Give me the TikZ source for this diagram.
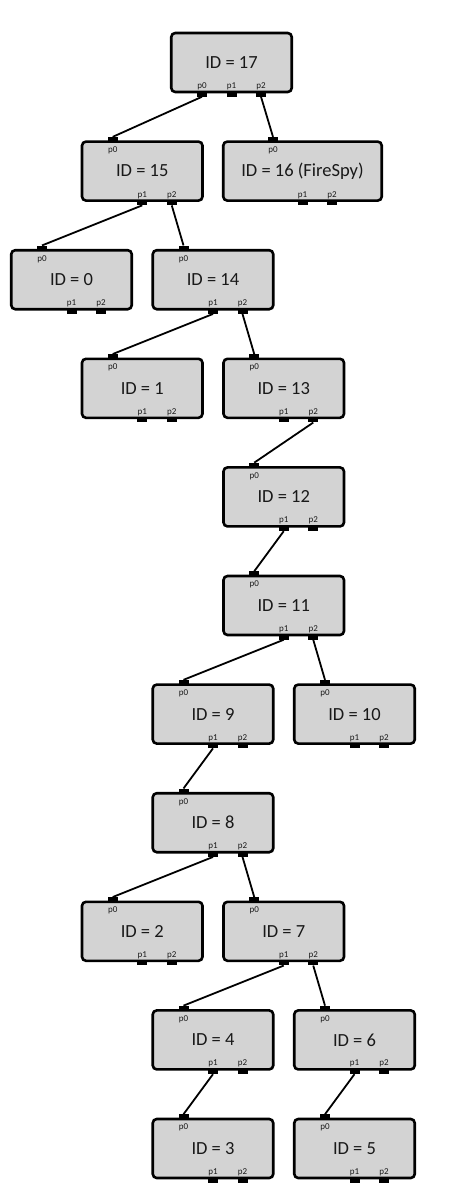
\documentclass[tikz,border=0pt]{standalone}
\usepackage{fontspec}
\setmainfont{Carlito}
\definecolor{boxgray}{RGB}{211,211,211}
\definecolor{idtext}{RGB}{25,25,25}
\tikzset{
  idbox/.style={draw=black, fill=boxgray, line width=2.6pt, rounded corners=4pt,
    minimum height=59pt, inner sep=0pt, text=idtext, font=\fontsize{18.5}{20}\selectfont},
  port/.style={fill=black, draw=none, minimum width=10pt, minimum height=4.5pt, inner sep=0pt},
  plabel/.style={inner sep=0pt, text=idtext, font=\fontsize{9}{10}\selectfont},
  conn/.style={draw=black, line width=1.8pt}
}
% box with p0 on top and p1, p2 at bottom
\newcommand\treebox[5]{%
  \node[idbox, minimum width=#5] (#1) at (#2,#3) {#4};
  \node[port] (#1p0) at ([xshift=-29.5pt,yshift=1pt]#1.north) {};
  \node[port] (#1p1) at ([yshift=-1pt]#1.south) {};
  \node[port] (#1p2) at ([xshift=29.5pt,yshift=-1pt]#1.south) {};
  \node[plabel] (#1l0) at ([xshift=-29.5pt,yshift=-10pt]#1.north) {p0};
  \node[plabel] (#1l1) at ([yshift=7pt]#1.south) {p1};
  \node[plabel] (#1l2) at ([xshift=29.5pt,yshift=7pt]#1.south) {p2};
}
\begin{document}
\begin{tikzpicture}[x=1pt,y=-1pt]
\useasboundingbox (0,0) rectangle (450,1200);
% root box with all ports at bottom
\node[idbox, minimum width=120.5pt] (n17) at (231.5,62.5) {ID = 17};
\node[port] (n17p0) at ([xshift=-29.5pt,yshift=-1pt]n17.south) {};
\node[port] (n17p1) at ([yshift=-1pt]n17.south) {};
\node[port] (n17p2) at ([xshift=29.5pt,yshift=-1pt]n17.south) {};
\node[plabel] (n17l0) at ([xshift=-29.5pt,yshift=7pt]n17.south) {p0};
\node[plabel] (n17l1) at ([yshift=7pt]n17.south) {p1};
\node[plabel] (n17l2) at ([xshift=29.5pt,yshift=7pt]n17.south) {p2};

\treebox{n15}{142.25}{171.1}{ID = 15}{120.5pt}
\treebox{n16}{302.5}{171.1}{ID = 16 (FireSpy)}{158.5pt}
\treebox{n0}{71.5}{279.7}{ID = 0}{120.5pt}
\treebox{n14}{213}{279.7}{ID = 14}{120.5pt}
\treebox{n1}{142.25}{388.3}{ID = 1}{120.5pt}
\treebox{n13}{283.75}{388.3}{ID = 13}{120.5pt}
\treebox{n12}{283.75}{496.9}{ID = 12}{120.5pt}
\treebox{n11}{283.75}{605.5}{ID = 11}{120.5pt}
\treebox{n9}{213}{714.1}{ID = 9}{120.5pt}
\treebox{n10}{354.5}{714.1}{ID = 10}{120.5pt}
\treebox{n8}{213}{822.7}{ID = 8}{120.5pt}
\treebox{n2}{142.25}{931.3}{ID = 2}{120.5pt}
\treebox{n7}{283.75}{931.3}{ID = 7}{120.5pt}
\treebox{n4}{213}{1039.9}{ID = 4}{120.5pt}
\treebox{n6}{354.5}{1039.9}{ID = 6}{120.5pt}
\treebox{n3}{213}{1148.5}{ID = 3}{120.5pt}
\treebox{n5}{354.5}{1148.5}{ID = 5}{120.5pt}

\draw[conn] (n17p0.south) -- (n15p0.north);
\draw[conn] (n17p2.south) -- (n16p0.north);
\draw[conn] (n15p1.south) -- (n0p0.north);
\draw[conn] (n15p2.south) -- (n14p0.north);
\draw[conn] (n14p1.south) -- (n1p0.north);
\draw[conn] (n14p2.south) -- (n13p0.north);
\draw[conn] (n13p2.south) -- (n12p0.north);
\draw[conn] (n12p1.south) -- (n11p0.north);
\draw[conn] (n11p1.south) -- (n9p0.north);
\draw[conn] (n11p2.south) -- (n10p0.north);
\draw[conn] (n9p1.south) -- (n8p0.north);
\draw[conn] (n8p1.south) -- (n2p0.north);
\draw[conn] (n8p2.south) -- (n7p0.north);
\draw[conn] (n7p1.south) -- (n4p0.north);
\draw[conn] (n7p2.south) -- (n6p0.north);
\draw[conn] (n4p1.south) -- (n3p0.north);
\draw[conn] (n6p1.south) -- (n5p0.north);
\end{tikzpicture}
\end{document}
